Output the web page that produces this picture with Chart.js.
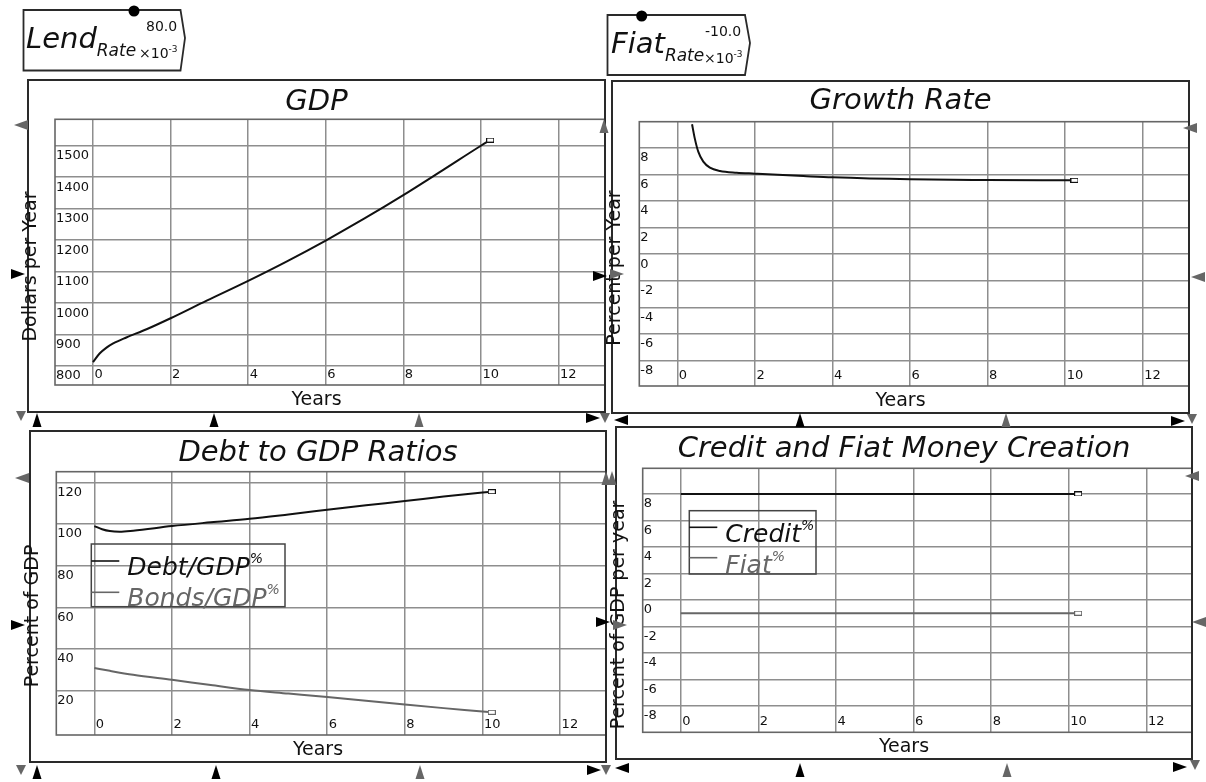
<!DOCTYPE html>
<html>
<head>
<meta charset="utf-8">
<script src="https://cdn.jsdelivr.net/npm/chart.js@4.4.1/dist/chart.umd.min.js"></script>
<style>
  body { margin: 0; background: #fff; }
  #stage { position: relative; width: 1206px; height: 782px; overflow: hidden; background: #fff; }
  #stage canvas { position: absolute; }
  #deco { position: absolute; left: 0; top: 0; }
</style>
</head>
<body>
<div id="stage">
  <canvas id="gdp"></canvas>
  <canvas id="growth"></canvas>
  <canvas id="debt"></canvas>
  <canvas id="credit"></canvas>
  <svg id="deco" width="1206" height="782" xmlns="http://www.w3.org/2000/svg"></svg>
</div>
<script>
// ---- values ----
const lendRate = 80.0;   // x10^-3
const fiatRate = -10.0;  // x10^-3

const yearTicks = [0, 2, 4, 6, 8, 10, 12];

const gdpYears  = [0, 0.17, 0.34, 0.52, 0.86, 1.38, 2, 2.93, 4, 5, 6, 7, 8, 9, 10, 10.24];
const gdpValues = [813, 840, 858, 872, 891, 917, 952, 1008, 1071, 1133, 1199, 1269, 1343, 1421, 1500, 1518];
const gdpTicks  = [800, 900, 1000, 1100, 1200, 1300, 1400, 1500];

const growthYears  = [0.38, 0.45, 0.54, 0.67, 0.84, 1.1, 1.53, 2, 3.25, 4, 6, 8, 10.24];
const growthValues = [9.76, 8.7, 7.7, 6.95, 6.5, 6.25, 6.12, 6.05, 5.87, 5.77, 5.62, 5.57, 5.55];
const rateTicks    = [-8, -6, -4, -2, 0, 2, 4, 6, 8];

const debtYears = [0, 0.2, 0.4, 0.65, 1, 2, 3, 4, 5, 6, 7, 8, 9, 10, 10.24];
const debtRatio = [99, 97.5, 96.6, 96.3, 96.8, 99.0, 100.8, 102.5, 104.6, 106.8, 109, 111, 113.2, 115.1, 115.5];
const bondYears = [0, 0.4, 1, 2, 3, 4, 5, 6, 7, 8, 9, 10, 10.24];
const bondRatio = [30.9, 29.5, 27.6, 25.2, 22.7, 20.3, 18.6, 16.9, 15.1, 13.3, 11.6, 10.0, 9.6];
const ratioTicks = [20, 40, 60, 80, 100, 120];

const moneyYears = [0, 10.24];
const creditPct  = [8, 8];
const fiatPct    = [-1, -1];

const ratioLabels = ["Debt/GDP", "Bonds/GDP"];
const moneyLabels = ["Credit", "Fiat"];

// ---- styling / layout ----
const FONT = '"DejaVu Sans", Verdana, sans-serif';
const INK = "#111";
const GREY_LINE = "#666";
const GRID = "#8e8e8e";
const MARGIN = 14;

const panels = {
  gdp:    { left: 27,  top: 79,  width: 579, height: 334, gapLeft: 28,   gapTop: 40.3, gapBottom: 28,   gapRight: 1,   titleY: 23,   yTitleY: 187.5 },
  growth: { left: 611, top: 80,  width: 579, height: 334, gapLeft: 28.3, gapTop: 41.7, gapBottom: 28,   gapRight: 0.7, titleY: 21.5, yTitleY: 188 },
  debt:   { left: 29,  top: 430, width: 578, height: 333, gapLeft: 27.3, gapTop: 41.7, gapBottom: 28,   gapRight: 0.3, titleY: 23.7, yTitleY: 186 },
  credit: { left: 615, top: 426, width: 578, height: 334, gapLeft: 27.7, gapTop: 42.3, gapBottom: 27.7, gapRight: 0,   titleY: 23.5, yTitleY: 189 },
};

Chart.defaults.font.family = FONT;

function endMarker(color) {
  const c = document.createElement("canvas");
  c.width = 8;
  c.height = 5;
  const g = c.getContext("2d");
  g.fillStyle = "#fff";
  g.fillRect(0, 0, 8, 5);
  g.strokeStyle = color;
  g.lineWidth = 1;
  g.strokeRect(0.5, 0.5, 7, 4);
  return c;
}

function series(label, xs, ys, color) {
  return {
    label,
    data: xs.map((x, i) => ({ x, y: ys[i] })),
    borderColor: color,
    borderWidth: 2,
    cubicInterpolationMode: "monotone",
    pointRadius: xs.map((_, i) => (i === xs.length - 1 ? 3 : 0)),
    pointStyle: endMarker(color),
  };
}

// frame, plot border and the panel texts
const panelDecor = {
  id: "panelDecor",
  beforeDatasetsDraw(chart) {
    const { ctx, chartArea: a } = chart;
    ctx.save();
    ctx.strokeStyle = "#666";
    ctx.lineWidth = 1.6;
    ctx.strokeRect(a.left, a.top, a.right - a.left, a.bottom - a.top);
    ctx.restore();
  },
  afterDraw(chart, args, o) {
    const { ctx } = chart;
    const w = chart.width, h = chart.height;
    const cx = MARGIN + (w - MARGIN) / 2;
    ctx.save();
    ctx.strokeStyle = "#2a2a2a";
    ctx.lineWidth = 2;
    ctx.strokeRect(MARGIN + 1, 1, w - MARGIN - 2, h - 2);
    ctx.fillStyle = INK;
    ctx.textAlign = "center";
    ctx.textBaseline = "middle";
    ctx.font = "italic 29px " + FONT;
    ctx.fillText(o.title, cx, o.titleY);
    ctx.font = "19px " + FONT;
    ctx.fillText(o.xTitle, cx, h - 12.5);
    ctx.translate(MARGIN + 4, o.yTitleY);
    ctx.rotate(-Math.PI / 2);
    ctx.fillText(o.yTitle, 0, 0);
    ctx.restore();
  },
};

function buildChart(key, cfg) {
  const p = panels[key];
  const cv = document.getElementById(key);
  cv.width = p.width + MARGIN;
  cv.height = p.height;
  cv.style.left = (p.left - MARGIN) + "px";
  cv.style.top = p.top + "px";

  const tickFont = { size: 13, family: FONT };
  const chart = new Chart(cv, {
    type: "line",
    data: { datasets: cfg.datasets },
    options: {
      responsive: false,
      animation: false,
      events: [],
      devicePixelRatio: 1,
      layout: { autoPadding: false, padding: { top: p.gapTop, right: p.gapRight, left: 0, bottom: 0 } },
      plugins: {
        legend: { display: false },
        tooltip: { enabled: false },
        panelDecor: { title: cfg.title, xTitle: "Years", yTitle: cfg.yTitle, titleY: p.titleY, yTitleY: p.yTitleY },
      },
      scales: {
        x: {
          type: "linear",
          min: -0.98,
          max: 13.2,
          afterBuildTicks: s => { s.ticks = yearTicks.map(v => ({ value: v })); },
          afterFit: s => { s.height = p.gapBottom; },
          ticks: {
            mirror: true, align: "start", padding: 3, labelOffset: 1.5,
            autoSkip: false, maxRotation: 0, color: "#111", font: tickFont,
            callback: v => String(v),
          },
          grid: { color: GRID, lineWidth: 1.5, drawTicks: false },
          border: { display: false },
        },
        y: {
          min: cfg.yMin,
          max: cfg.yMax,
          afterBuildTicks: s => { s.ticks = cfg.yTicks.map(v => ({ value: v })); },
          afterFit: s => { s.width = MARGIN + p.gapLeft; },
          ticks: {
            mirror: true, padding: 1, labelOffset: 10,
            autoSkip: false, color: "#111", font: tickFont,
            callback: v => String(v),
          },
          grid: { color: GRID, lineWidth: 1.5, drawTicks: false },
          border: { display: false },
        },
      },
    },
    plugins: [panelDecor],
  });

  // pin the plot area to the measured frame of the reference
  const a = chart.chartArea;
  const pad = chart.config.options.layout.padding;
  const dRight = (cv.width - p.gapRight) - a.right;
  const dTop = p.gapTop - a.top;
  if (Math.abs(dRight) > 0.2 || Math.abs(dTop) > 0.2) {
    pad.right -= dRight;
    pad.top += dTop;
    chart.update();
  }
  return chart;
}

buildChart("gdp", {
  title: "GDP", yTitle: "Dollars per Year",
  yMin: 740, yMax: 1584, yTicks: gdpTicks,
  datasets: [series("GDP", gdpYears, gdpValues, INK)],
});

buildChart("growth", {
  title: "Growth Rate", yTitle: "Percent per Year",
  yMin: -9.9, yMax: 9.95, yTicks: rateTicks,
  datasets: [series("Growth", growthYears, growthValues, INK)],
});

buildChart("debt", {
  title: "Debt to GDP Ratios", yTitle: "Percent of GDP",
  yMin: -1.3, yMax: 125.1, yTicks: ratioTicks,
  datasets: [
    series(ratioLabels[0], debtYears, debtRatio, INK),
    series(ratioLabels[1], bondYears, bondRatio, GREY_LINE),
  ],
});

buildChart("credit", {
  title: "Credit and Fiat Money Creation", yTitle: "Percent of GDP per year",
  yMin: -10, yMax: 9.94, yTicks: rateTicks,
  datasets: [
    series(moneyLabels[0], moneyYears, creditPct, INK),
    series(moneyLabels[1], moneyYears, fiatPct, GREY_LINE),
  ],
});

// ---- overlay: variable boxes, legends, port triangles ----
const NS = "http://www.w3.org/2000/svg";
const svg = document.getElementById("deco");

function el(tag, attrs, text) {
  const e = document.createElementNS(NS, tag);
  for (const k in attrs) e.setAttribute(k, attrs[k]);
  if (text !== undefined) e.textContent = text;
  svg.appendChild(e);
  return e;
}

function tspan(parent, attrs, text) {
  const t = document.createElementNS(NS, "tspan");
  for (const k in attrs) t.setAttribute(k, attrs[k]);
  t.textContent = text;
  parent.appendChild(t);
}

function variableBox(x0, y0, x1, y1, tipX, tipY, dotX, name, value, nx, ny, vx, vy, ex, ey) {
  el("polygon", {
    points: `${x0},${y0} ${x1},${y0} ${tipX},${tipY} ${x1},${y1} ${x0},${y1}`,
    fill: "#fff", stroke: "#2a2a2a", "stroke-width": 1.8,
  });
  el("circle", { cx: dotX, cy: y0 + 1, r: 5.5, fill: "#000" });
  const t = el("text", { x: nx, y: ny, "font-family": FONT, "font-size": 29, "font-style": "italic", fill: INK }, name);
  tspan(t, { "font-size": 17, dy: 8 }, "Rate");
  el("text", { x: vx, y: vy, "font-family": FONT, "font-size": 14, fill: INK }, value.toFixed(1));
  const e = el("text", { x: ex, y: ey, "font-family": FONT, "font-size": 14, fill: INK }, "\u00d710");
  tspan(e, { "font-size": 9, dy: -6 }, "-3");
}

variableBox(23.5, 10, 180.5, 70.5, 185, 38, 134, "Lend", lendRate, 26, 48, 146, 31, 139, 58);
variableBox(607.5, 15, 745, 75, 750, 43, 641.7, "Fiat", fiatRate, 611, 53, 705, 36, 704, 63);

function legend(box, rows) {
  el("rect", { x: box.x, y: box.y, width: box.w, height: box.h, fill: "none", stroke: "#444", "stroke-width": 1.5 });
  rows.forEach(r => {
    el("line", { x1: box.x, y1: r.lineY, x2: box.x + 28, y2: r.lineY, stroke: r.color, "stroke-width": 1.6 });
    const t = el("text", { x: box.x + 36, y: r.base, "font-family": FONT, "font-size": 25, "font-style": "italic", fill: r.color }, r.label);
    tspan(t, { "font-size": 14, dy: -12 }, "%");
  });
}

legend({ x: 91.3, y: 544, w: 193.7, h: 62.7 }, [
  { label: ratioLabels[0], color: INK, lineY: 561, base: 575 },
  { label: ratioLabels[1], color: GREY_LINE, lineY: 592.3, base: 605.5 },
]);
legend({ x: 689.3, y: 510.7, w: 126.7, h: 63.3 }, [
  { label: moneyLabels[0], color: INK, lineY: 527.3, base: 541.5 },
  { label: moneyLabels[1], color: GREY_LINE, lineY: 557.7, base: 572.5 },
]);

// port markers on the panel edges
const ports = [
  [21, 125, "l", "g"], [18, 274, "r", "k"], [21, 416, "d", "g"], [37, 420, "u", "k"], [214, 420, "u", "k"],
  [419, 420, "u", "g"], [593, 418, "r", "k"], [605, 418, "d", "g"], [604, 126, "u", "g"], [600, 276, "r", "k"],
  [617, 274, "r", "g"], [621, 420, "l", "k"], [800, 420, "u", "k"], [1006, 420, "u", "g"], [1178, 421, "r", "k"],
  [1192, 419, "d", "g"], [1190, 128, "l", "g"], [1198, 277, "l", "g"],
  [22, 478, "l", "g"], [18, 625, "r", "k"], [21, 770, "d", "g"], [37, 772, "u", "k"], [216, 772, "u", "k"],
  [420, 772, "u", "g"], [594, 770, "r", "k"], [606, 770, "d", "g"], [606, 478, "u", "g"], [603, 622, "r", "k"],
  [620, 625, "r", "g"], [622, 768, "l", "k"], [800, 770, "u", "k"], [1007, 770, "u", "g"], [1180, 767, "r", "k"],
  [1195, 765, "d", "g"], [1192, 476, "l", "g"], [1199, 622, "l", "g"], [612, 478, "u", "g"],
];

ports.forEach(([x, y, dir, shade]) => {
  let pts;
  if (dir === "u") pts = [[x - 4.5, y + 7], [x + 4.5, y + 7], [x, y - 7]];
  else if (dir === "d") pts = [[x - 5, y - 5], [x + 5, y - 5], [x, y + 5]];
  else if (dir === "r") pts = [[x - 7, y - 5], [x - 7, y + 5], [x + 7, y]];
  else pts = [[x + 7, y - 5], [x + 7, y + 5], [x - 7, y]];
  el("polygon", { points: pts.map(q => q.join(",")).join(" "), fill: shade === "k" ? "#000" : "#666" });
});
</script>
</body>
</html>
